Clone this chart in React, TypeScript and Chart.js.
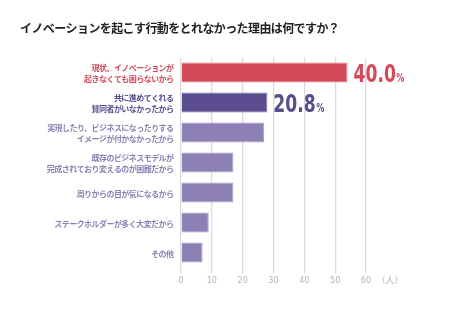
import React, { useEffect, useRef } from "react";
import { Chart, registerables } from "chart.js";
Chart.register(...registerables);

const title = "イノベーションを起こす行動をとれなかった理由は何ですか？";
const categories: string[][] = [
  ["現状、イノベーションが", "起きなくても困らないから"],
  ["共に進めてくれる", "賛同者がいなかったから"],
  ["実現したり、ビジネスになったりする", "イメージが付かなかったから"],
  ["既存のビジネスモデルが", "完成されており変えるのが困難だから"],
  ["周りからの目が気になるから"],
  ["ステークホルダーが多く大変だから"],
  ["その他"],
];
const values = [54, 28, 27, 17, 17, 9, 7];
const percentLabels = ["40.0", "20.8", "", "", "", "", ""];
const xTicks = [0, 10, 20, 30, 40, 50, 60];
const unitLabel = "（人）";

const RED = "#d24a58";
const DARK = "#5b4b8f";
const LIGHT = "#8d80b5";
const barColors = [RED, DARK, LIGHT, LIGHT, LIGHT, LIGHT, LIGHT];
const borderColors = ["#e07883", "#7a6ca6", "#a89dc9", "#a89dc9", "#a89dc9", "#a89dc9", "#a89dc9"];
const labelColors = [RED, DARK, LIGHT, LIGHT, LIGHT, LIGHT, LIGHT];

const JP = '"Noto Sans CJK JP", "Noto Sans", sans-serif';
const NUM = '"DejaVu Sans Condensed", "DejaVu Sans", sans-serif';

export default function App() {
  const ref = useRef<HTMLCanvasElement>(null);
  useEffect(() => {
    const overlay = {
      id: "overlay",
      afterDraw(chart: any) {
        const ctx = chart.ctx;
        ctx.save();
        // title
        ctx.fillStyle = "#222";
        ctx.font = `bold 12px ${JP}`;
        (ctx as any).letterSpacing = "-0.6px";
        ctx.textBaseline = "middle";
        ctx.textAlign = "left";
        ctx.fillText(title, 20, 28);
        // category labels
        const ys = chart.scales.y;
        ctx.font = `bold 8px ${JP}`;
        (ctx as any).letterSpacing = "-0.55px";
        ctx.textAlign = "right";
        categories.forEach((lines, i) => {
          const cy = ys.getPixelForTick(i) + 1;
          const lh = 11;
          ctx.fillStyle = labelColors[i];
          lines.forEach((ln, j) => {
            const y = cy + (j - (lines.length - 1) / 2) * lh;
            ctx.fillText(ln, ys.right - 7.5, y);
          });
        });
        (ctx as any).letterSpacing = "0px";
        // value labels
        const meta = chart.getDatasetMeta(0);
        meta.data.forEach((bar: any, i: number) => {
          const t = percentLabels[i];
          if (!t) return;
          ctx.fillStyle = barColors[i];
          ctx.textAlign = "left";
          ctx.textBaseline = "alphabetic";
          const x0 = bar.x + 6;
          const base = bar.y + 9.5;
          ctx.save();
          ctx.translate(x0, base);
          ctx.scale(0.78, 1);
          ctx.font = `bold 24.5px ${NUM}`;
          ctx.fillText(t, 0, 0);
          const w = ctx.measureText(t).width;
          ctx.font = `bold 11.5px ${NUM}`;
          ctx.fillText("%", w + 0.5, 0);
          ctx.restore();
        });
        // unit
        const xs = chart.scales.x;
        ctx.fillStyle = "#b3b3b3";
        ctx.font = `9px ${JP}`;
        ctx.textAlign = "center";
        ctx.textBaseline = "middle";
        ctx.fillText(unitLabel, xs.right + 24, 280);
        ctx.restore();
      },
    };
    const chart = new Chart(ref.current!, {
      type: "bar",
      data: {
        labels: categories.map((c) => c.join("")),
        datasets: [
          {
            data: values,
            backgroundColor: barColors,
            borderColor: borderColors,
            borderWidth: 1,
            barPercentage: 0.667,
            categoryPercentage: 1,
          },
        ],
      },
      options: {
        indexAxis: "y",
        animation: false,
        responsive: false,
        layout: { padding: { left: 20, right: 87, top: 57.5, bottom: 33.5 } },
        plugins: { legend: { display: false }, tooltip: { enabled: false }, title: { display: false } },
        scales: {
          x: {
            min: 0,
            max: 60,
            afterFit: (s: any) => { s.height = 20; },
            afterBuildTicks: (s: any) => { s.ticks = xTicks.map((v) => ({ value: v })); },
            grid: { color: "#dcdcdc", lineWidth: 1.3, tickLength: 6, drawTicks: true },
            border: { display: false },
            ticks: { color: "#b3b3b3", font: { size: 9, family: NUM }, padding: 2 },
          },
          y: {
            afterFit: (s: any) => { s.width = 161; },
            grid: { display: false },
            border: { display: false },
            ticks: { display: false },
          },
        },
      },
      plugins: [overlay],
    });
    return () => chart.destroy();
  }, []);
  return (
    <div style={{ position: "absolute", left: 0, top: 0, width: 453, height: 321, background: "#fff" }}>
      <canvas ref={ref} width={453} height={321} />
    </div>
  );
}
